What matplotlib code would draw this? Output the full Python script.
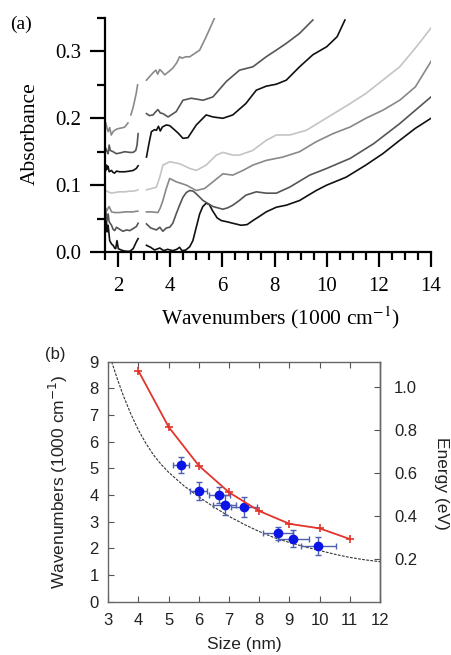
import numpy as np
import matplotlib
matplotlib.use("Agg")
import matplotlib.pyplot as plt

# ---------------- Panel (a): absorbance spectra (x in 1000 cm^-1) ----------------
# left segments (below the gap)
c1_xl = [1.53, 1.55, 1.58, 1.62, 1.68, 1.75, 1.81, 1.87, 1.91, 1.96, 2.01, 2.06, 2.19, 2.33, 2.45, 2.58, 2.70, 2.77]
c1_yl = [0.032, 0.050, 0.030, 0.040, 0.017, 0.012, 0.010, 0.006, 0.005, 0.017, 0.005, 0.004, 0.002, 0.001, 0.001, 0.005, 0.015, 0.020]
c2_xl = [1.53, 1.56, 1.58, 1.62, 1.66, 1.75, 1.81, 1.87, 1.94, 2.06, 2.19, 2.33, 2.45, 2.58, 2.70, 2.77]
c2_yl = [0.062, 0.050, 0.047, 0.057, 0.045, 0.040, 0.034, 0.032, 0.037, 0.034, 0.031, 0.033, 0.032, 0.035, 0.038, 0.043]
c3_xl = [1.53, 1.58, 1.62, 1.66, 1.75, 1.87, 2.06, 2.26, 2.45, 2.58, 2.70, 2.76]
c3_yl = [0.065, 0.062, 0.066, 0.068, 0.060, 0.059, 0.059, 0.060, 0.060, 0.060, 0.061, 0.061]
c4_xl = [1.53, 1.62, 1.75, 1.87, 2.06, 2.26, 2.45, 2.58, 2.70, 2.76]
c4_yl = [0.092, 0.090, 0.088, 0.089, 0.090, 0.090, 0.091, 0.091, 0.092, 0.093]
c5_xl = [1.53, 1.56, 1.58, 1.62, 1.66, 1.75, 1.81, 1.87, 1.94, 2.06, 2.26, 2.45, 2.58, 2.70, 2.77]
c5_yl = [0.122, 0.130, 0.124, 0.128, 0.120, 0.122, 0.119, 0.118, 0.121, 0.120, 0.120, 0.121, 0.122, 0.125, 0.129]
c6_xl = [1.53, 1.58, 1.62, 1.66, 1.70, 1.81, 1.94, 2.06, 2.26, 2.45, 2.58, 2.68, 2.73, 2.77]
c6_yl = [0.155, 0.150, 0.147, 0.160, 0.152, 0.150, 0.147, 0.148, 0.150, 0.149, 0.149, 0.152, 0.160, 0.177]
c7_xl = [1.53, 1.58, 1.62, 1.68, 1.74, 1.81, 1.87, 1.96, 2.06, 2.19, 2.26, 2.38, 2.42, 2.49, 2.57, 2.64, 2.70, 2.75]
c7_yl = [0.193, 0.185, 0.180, 0.186, 0.175, 0.180, 0.182, 0.184, 0.185, 0.186, 0.187, 0.193, np.nan, 0.205, 0.215, 0.227, 0.238, 0.250]

# right segments (above the gap)
c1_xr = [3.09, 3.25, 3.40, 3.60, 3.75, 3.90, 4.10, 4.25, 4.36, 4.45, 4.60, 4.75, 4.87, 5.00, 5.13, 5.25, 5.38, 5.50, 5.62, 5.80, 5.96, 6.20, 6.40, 6.72, 6.95, 7.17, 7.45, 7.68, 8.07, 8.45, 8.96, 9.30, 9.60, 10.0, 10.75, 11.5, 12.15, 12.8, 13.4, 14.0]
c1_yr = [0.010, 0.007, 0.003, 0.006, 0.002, 0.004, 0.002, 0.004, 0.007, 0.002, 0.003, 0.008, 0.017, 0.037, 0.057, 0.068, 0.073, 0.071, 0.062, 0.051, 0.047, 0.045, 0.043, 0.040, 0.041, 0.047, 0.054, 0.060, 0.067, 0.070, 0.077, 0.085, 0.092, 0.100, 0.112, 0.130, 0.147, 0.167, 0.185, 0.200]
c2_xr = [3.09, 3.25, 3.47, 3.60, 3.72, 3.85, 3.98, 4.10, 4.23, 4.36, 4.49, 4.62, 4.75, 4.88, 5.00, 5.26, 5.64, 6.02, 6.20, 6.40, 6.65, 6.90, 7.30, 7.68, 8.07, 8.58, 9.35, 10.0, 10.9, 11.8, 12.8, 14.0]
c2_yr = [0.042, 0.036, 0.033, 0.037, 0.031, 0.036, 0.037, 0.043, 0.057, 0.070, 0.082, 0.089, 0.092, 0.091, 0.087, 0.077, 0.068, 0.064, 0.066, 0.070, 0.077, 0.085, 0.090, 0.088, 0.088, 0.097, 0.115, 0.125, 0.140, 0.162, 0.192, 0.232]
c3_xr = [3.09, 3.30, 3.53, 3.62, 3.72, 3.85, 3.98, 4.23, 4.62, 5.00, 5.32, 5.64, 6.02, 6.40, 6.79, 7.17, 7.68, 8.32, 8.96, 9.60, 10.24, 10.9, 11.5, 12.15, 12.8, 13.4, 14.0]
c3_yr = [0.060, 0.060, 0.059, 0.066, 0.077, 0.095, 0.110, 0.105, 0.100, 0.092, 0.095, 0.105, 0.117, 0.115, 0.122, 0.130, 0.137, 0.142, 0.150, 0.165, 0.177, 0.187, 0.200, 0.212, 0.227, 0.247, 0.285]
c4_xr = [3.09, 3.30, 3.47, 3.60, 3.72, 3.98, 4.36, 4.75, 5.00, 5.38, 5.77, 6.02, 6.40, 6.66, 7.17, 7.68, 8.07, 8.58, 9.22, 9.85, 10.9, 11.5, 12.15, 12.8, 13.4, 14.0]
c4_yr = [0.093, 0.095, 0.097, 0.112, 0.130, 0.135, 0.132, 0.125, 0.122, 0.130, 0.145, 0.149, 0.145, 0.145, 0.152, 0.167, 0.175, 0.175, 0.182, 0.197, 0.222, 0.237, 0.257, 0.277, 0.305, 0.335]
c5_xr = [3.09, 3.20, 3.28, 3.40, 3.47, 3.55, 3.62, 3.70, 3.85, 3.98, 4.10, 4.30, 4.49, 4.68, 5.00, 5.38, 5.64, 6.02, 6.40, 6.90, 7.30, 7.68, 8.07, 8.45, 8.96, 9.47, 10.0, 10.4, 10.7]
c5_yr = [0.142, 0.165, 0.180, 0.183, 0.182, 0.188, 0.181, 0.187, 0.190, 0.189, 0.185, 0.178, 0.170, 0.171, 0.190, 0.205, 0.202, 0.200, 0.205, 0.222, 0.242, 0.248, 0.251, 0.257, 0.277, 0.295, 0.307, 0.322, 0.347]
c6_xr = [3.09, 3.20, 3.34, 3.45, 3.53, 3.62, 3.72, 3.92, 4.23, 4.49, 4.81, 5.26, 5.64, 6.15, 6.66, 7.17, 7.68, 8.07, 8.45, 8.96, 9.47]
c6_yr = [0.207, 0.204, 0.205, 0.210, 0.213, 0.208, 0.207, 0.202, 0.210, 0.227, 0.230, 0.227, 0.232, 0.255, 0.272, 0.277, 0.292, 0.302, 0.312, 0.327, 0.347]
c7_xr = [3.09, 3.20, 3.34, 3.45, 3.52, 3.60, 3.68, 3.79, 3.95, 4.10, 4.25, 4.36, 4.45, 4.60, 4.75, 5.13, 5.38, 5.70]
c7_yr = [0.257, 0.262, 0.268, 0.272, 0.266, 0.273, 0.270, 0.265, 0.270, 0.275, 0.283, 0.292, 0.290, 0.292, 0.292, 0.302, 0.322, 0.350]

spectra = [
    (c1_xl, c1_yl, c1_xr, c1_yr, "#111111"),
    (c2_xl, c2_yl, c2_xr, c2_yr, "#555555"),
    (c3_xl, c3_yl, c3_xr, c3_yr, "#888888"),
    (c4_xl, c4_yl, c4_xr, c4_yr, "#c4c4c4"),
    (c5_xl, c5_yl, c5_xr, c5_yr, "#111111"),
    (c6_xl, c6_yl, c6_xr, c6_yr, "#555555"),
    (c7_xl, c7_yl, c7_xr, c7_yr, "#8a8a8a"),
]

# ---------------- Panel (b) data ----------------
calc_size = [4, 5, 6, 7, 8, 9, 10, 11]
calc_wn = [8.65, 6.55, 5.10, 4.10, 3.40, 2.92, 2.75, 2.35]

exp_size = [5.41, 6.00, 6.67, 6.86, 7.50, 8.61, 9.13, 9.96]
exp_wn = [5.12, 4.15, 4.00, 3.62, 3.56, 2.56, 2.37, 2.10]
exp_xerr = [0.26, 0.28, 0.35, 0.38, 0.44, 0.50, 0.52, 0.58]
exp_yerr = [0.30, 0.34, 0.30, 0.37, 0.37, 0.25, 0.33, 0.34]

fit_size = [3.11, 3.3, 3.5, 3.75, 4.0, 4.25, 4.5, 4.75, 5.0, 5.5, 6.0, 6.5, 7.0, 7.5, 8.0, 8.5, 9.0, 9.5, 10.0, 10.5, 11.0, 11.5, 12.0]
fit_wn = [9.0, 8.35, 7.72, 7.03, 6.43, 5.93, 5.5, 5.15, 4.85, 4.35, 3.93, 3.55, 3.2, 2.9, 2.63, 2.4, 2.22, 2.06, 1.92, 1.78, 1.66, 1.57, 1.5]

energy_ticks = [0.2, 0.4, 0.6, 0.8, 1.0]
WN_PER_EV = 8.0655

# ---------------- Figure ----------------
fig = plt.figure(figsize=(4.51, 6.55), dpi=100)

serif = ["Liberation Serif", "DejaVu Serif"]
sans = ["Liberation Sans", "DejaVu Sans"]

# Panel (a)
axa = fig.add_axes([105 / 451, 1 - 252 / 655, (431 - 105) / 451, (252 - 18) / 655])
for xl, yl, xr, yr, col in spectra:
    axa.plot(xl, yl, color=col, lw=1.2, solid_joinstyle="round")
    axa.plot(xr, yr, color=col, lw=1.2, solid_joinstyle="round")
axa.set_xlim(1.5, 14)
axa.set_ylim(0, 0.35)
for s in ["top", "right"]:
    axa.spines[s].set_visible(False)
for s in ["left", "bottom"]:
    axa.spines[s].set_linewidth(1.6)
axa.set_xticks([2, 4, 6, 8, 10, 12, 14])
axa.set_xticks(np.arange(1.5, 14.01, 0.5), minor=True)
axa.set_yticks([0.0, 0.1, 0.2, 0.3])
axa.set_yticks([0.05, 0.15, 0.25, 0.35], minor=True)
axa.set_yticklabels(["0.0", "0.1", "0.2", "0.3"])
axa.tick_params(axis="both", which="major", direction="out", length=11, width=1.6, labelsize=15)
axa.tick_params(axis="both", which="minor", direction="out", length=5.8, width=1.6)
axa.tick_params(axis="x", which="major", pad=7)
axa.tick_params(axis="y", which="major", pad=6)
for lab in axa.get_xticklabels() + axa.get_yticklabels():
    lab.set_family(serif)
fig.text(30 / 451, 1 - 134 / 655, "Absorbance", rotation=90, ha="center", va="center",
         fontsize=15.5, family=serif)
fig.text(280 / 451, 1 - 318 / 655, "Wavenumbers (1000 cm$^{-1}$)", ha="center", va="center",
         fontsize=15.5, family=serif, math_fontfamily="stix")
fig.text(10 / 451, 1 - 24 / 655, "(a)", ha="left", va="center", fontsize=14, family=serif)

# Panel (b)
axb = fig.add_axes([108.3 / 451, 1 - 601.7 / 655, (380 - 108.3) / 451, (601.7 - 361.7) / 655])
axb.plot(fit_size, fit_wn, color="#333333", lw=0.8, ls=(0, (2.5, 1.2)))
axb.errorbar(exp_size, exp_wn, xerr=exp_xerr, yerr=exp_yerr, fmt="o", color="#0a14e6",
             ms=6, ecolor="#5060b0", elinewidth=1.0, capsize=2.2, capthick=1.0, zorder=3)
axb.plot(calc_size, calc_wn, color="#e3342c", lw=1.3, marker="+", ms=6, mew=1.2, zorder=4)
axb.set_xlim(3, 12)
axb.set_ylim(0, 9)
axb.set_xticks(range(3, 13))
axb.set_yticks(range(0, 10))
for s in axb.spines.values():
    s.set_color("#666666")
    s.set_linewidth(1.0)
axb.tick_params(axis="both", direction="in", length=4, width=0.8, color="#555555",
                labelsize=12, top=True, labelcolor="#222222")
axb.tick_params(axis="x", pad=8)
axb.tick_params(axis="y", pad=7)
for lab in axb.get_xticklabels() + axb.get_yticklabels():
    lab.set_family(sans)

sec = axb.secondary_yaxis("right", functions=(lambda w: w / WN_PER_EV, lambda e: e * WN_PER_EV))
sec.set_yticks(energy_ticks)
sec.set_yticklabels(["%.1f" % t for t in energy_ticks])
sec.spines["right"].set_color("#666666")
sec.spines["right"].set_linewidth(1.0)
sec.tick_params(axis="y", direction="in", length=4, width=0.8, color="#555555",
                labelsize=12, pad=10, labelcolor="#222222")
for lab in sec.get_yticklabels():
    lab.set_family(sans)

fig.text(58 / 451, 1 - 482 / 655, "Wavenumbers (1000 cm$^{-1}$)", rotation=90, ha="center",
         va="center", fontsize=12.5, family=sans, math_fontfamily="dejavusans", color="#222222")
fig.text(442 / 451, 1 - 483 / 655, "Energy (eV)", rotation=-90, ha="center", va="center",
         fontsize=12.5, family=sans, color="#222222")
fig.text(244 / 451, 1 - 645 / 655, "Size (nm)", ha="center", va="center", fontsize=12.5,
         family=sans, color="#222222")
fig.text(55 / 451, 1 - 355 / 655, "(b)", ha="center", va="center", fontsize=12,
         family=sans, color="#222222")

fig.savefig("out.png", dpi=100)
